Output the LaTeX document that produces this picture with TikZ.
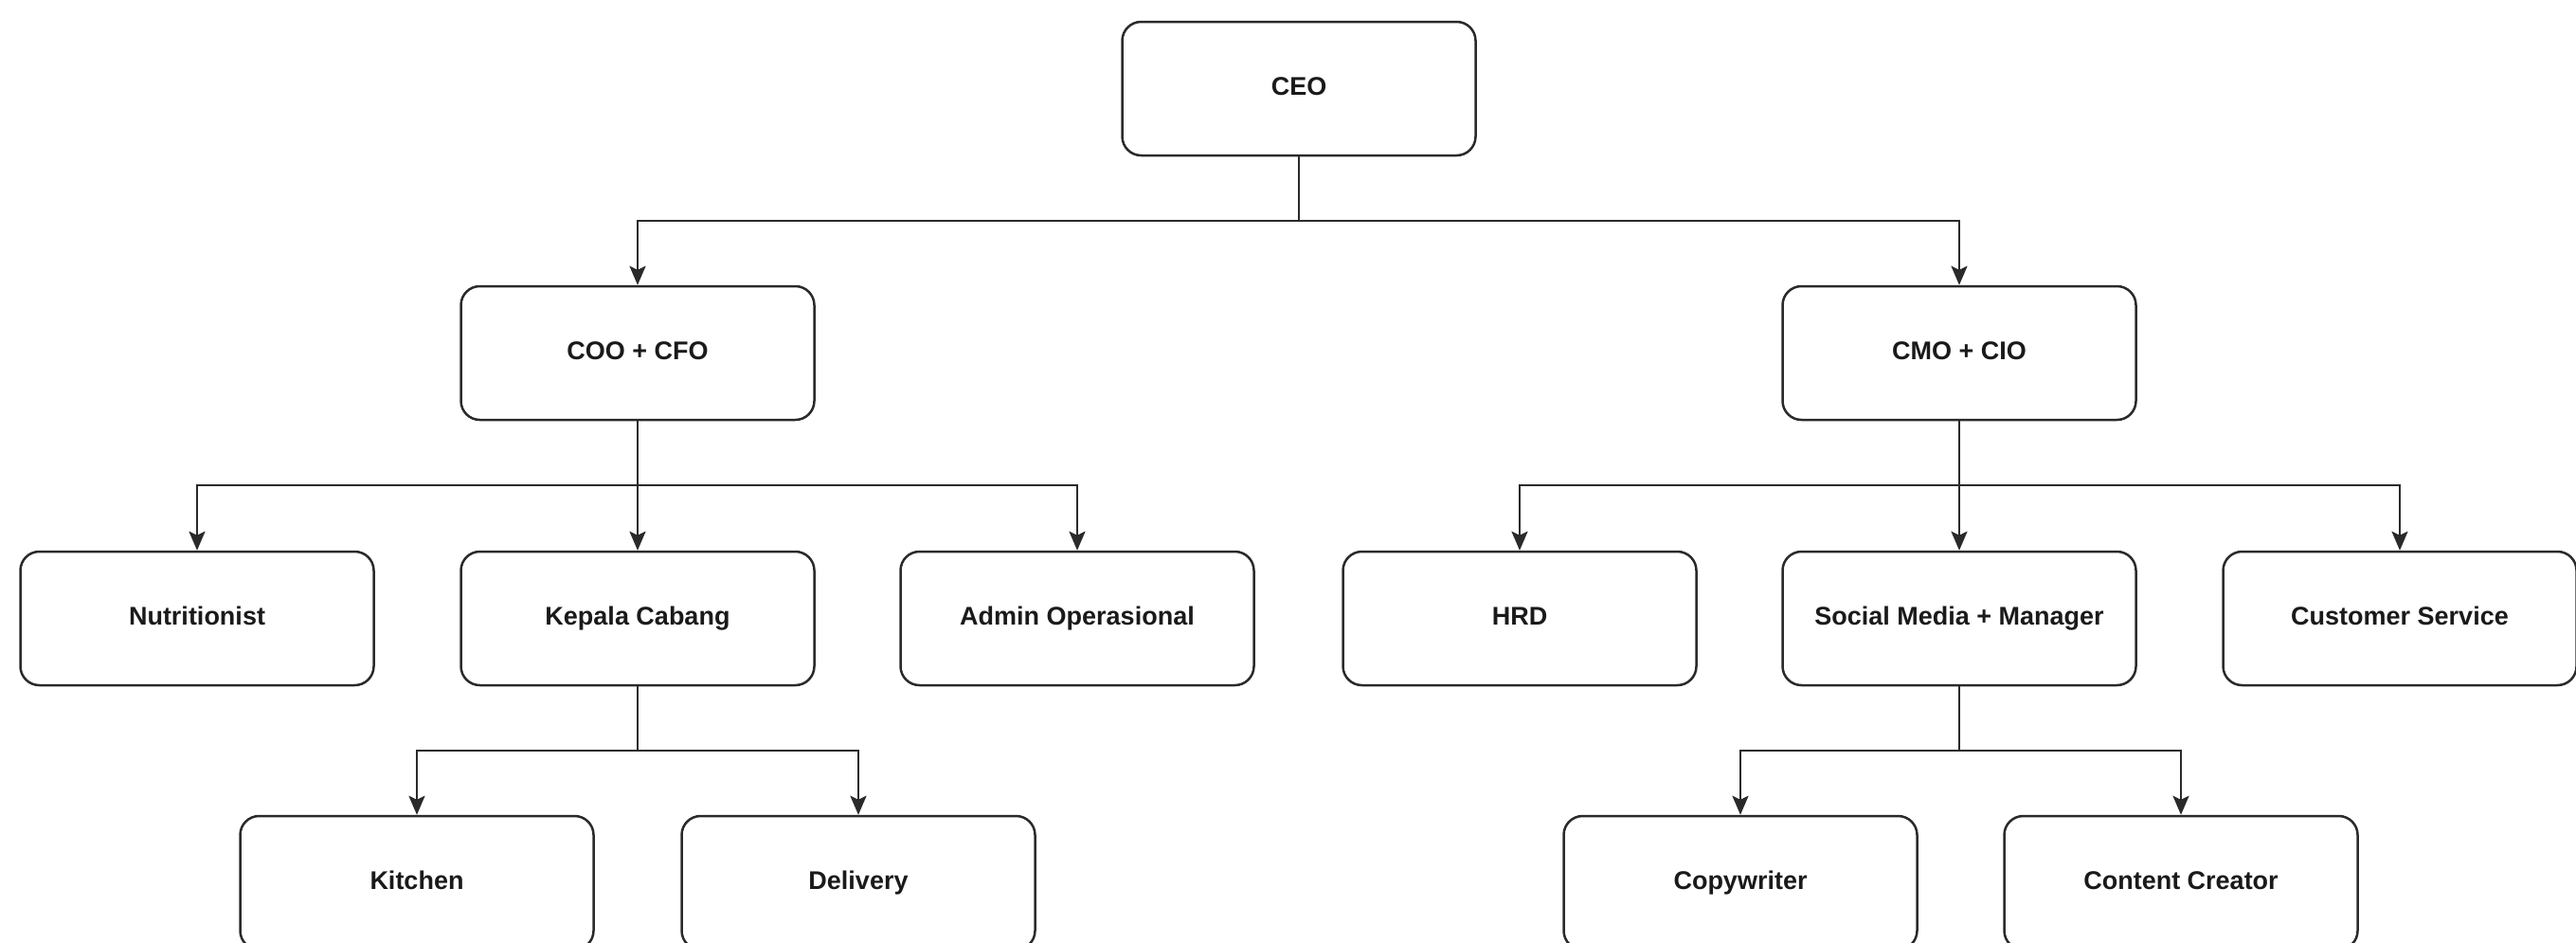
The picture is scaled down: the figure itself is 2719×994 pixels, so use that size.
\documentclass[tikz,border=0pt]{standalone}
\usepackage{fontspec}
\setmainfont{Liberation Sans}
\usetikzlibrary{arrows.meta}
\definecolor{ln}{HTML}{2A2A2A}
\definecolor{tx}{HTML}{1A1A1A}
\begin{document}
\begin{tikzpicture}[x=1pt,y=-1pt,
  box/.style={draw=ln,line width=2.5pt,rounded corners=20pt,fill=white,
    minimum width=373pt,minimum height=141pt,inner sep=0pt,
    text height=20pt,text depth=6pt,
    font=\fontsize{27}{32}\selectfont\bfseries,text=tx},
  arr/.style={draw=ln,line width=2.5pt,-{Stealth[length=20pt,width=17pt,inset=4pt]}},
  ln/.style={draw=ln,line width=2.5pt}]
\useasboundingbox[fill=white] (0,0) rectangle (2719,994);
% row 1
\node[box] (ceo) at (1371,93.5) {CEO};
% row 2
\node[box] (coo) at (673,372.5) {COO + CFO};
\node[box] (cmo) at (2068,372.5) {CMO + CIO};
% row 3
\node[box] (nut) at (208,652.5) {Nutritionist};
\node[box] (kep) at (673,652.5) {Kepala Cabang};
\node[box] (adm) at (1137,652.5) {Admin Operasional};
\node[box] (hrd) at (1604,652.5) {HRD};
\node[box] (soc) at (2068,652.5) {Social Media + Manager};
\node[box] (cs) at (2533,652.5) {Customer Service};
% row 4
\node[box] (kit) at (440,931.5) {Kitchen};
\node[box] (del) at (906,931.5) {Delivery};
\node[box] (cop) at (1837,931.5) {Copywriter};
\node[box] (con) at (2302,931.5) {Content Creator};
% bus levels
\coordinate (b1) at (0,233);
\coordinate (b2) at (0,512);
\coordinate (b3) at (0,792);
% CEO
\draw[arr] (ceo.south) -- (ceo.south |- b1) -| (coo.north);
\draw[arr] (ceo.south |- b1) -| (cmo.north);
% COO
\draw[arr] (coo.south) -- (kep.north);
\draw[arr] (coo.south |- b2) -| (nut.north);
\draw[arr] (coo.south |- b2) -| (adm.north);
% CMO
\draw[arr] (cmo.south) -- (soc.north);
\draw[arr] (cmo.south |- b2) -| (hrd.north);
\draw[arr] (cmo.south |- b2) -| (cs.north);
% Kepala
\draw[ln] (kep.south) -- (kep.south |- b3);
\draw[arr] (kep.south |- b3) -| (kit.north);
\draw[arr] (kep.south |- b3) -| (del.north);
% Social
\draw[ln] (soc.south) -- (soc.south |- b3);
\draw[arr] (soc.south |- b3) -| (cop.north);
\draw[arr] (soc.south |- b3) -| (con.north);
\end{tikzpicture}
\end{document}
